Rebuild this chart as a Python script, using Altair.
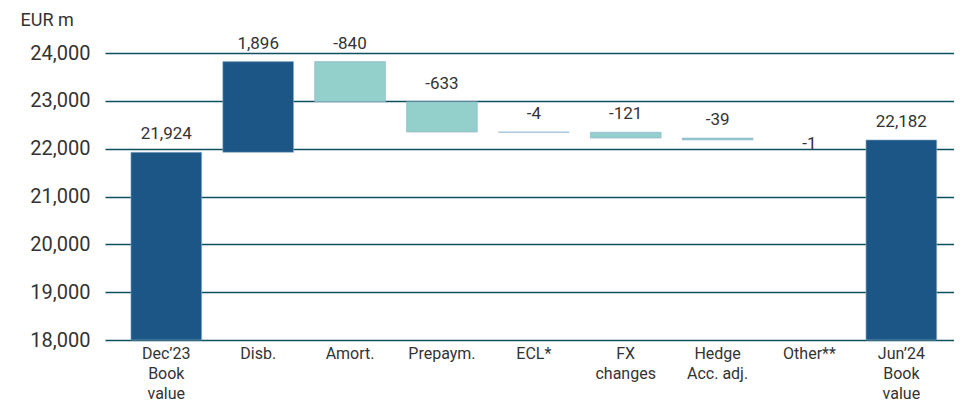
import altair as alt
import pandas as pd

categories = ["Dec’23\nBook\nvalue", "Disb.", "Amort.", "Prepaym.", "ECL*",
              "FX\nchanges", "Hedge\nAcc. adj.", "Other**", "Jun’24\nBook\nvalue"]
values = [21924, 1896, -840, -633, -4, -121, -39, -1, 22182]
kinds = ["total", "up", "down", "down", "down", "down", "down", "down", "total"]
y_ticks = [18000, 19000, 20000, 21000, 22000, 23000, 24000]

rows = []
running = 0
for c, v, k in zip(categories, values, kinds):
    if k == "total":
        start, end = 0, v
        running = v
    else:
        start, end = running, running + v
        running = end
    rows.append({"cat": c, "start": start, "end": end, "top": max(start, end),
                 "label": f"{v:,}", "kind": k,
                 "color": "light" if k == "down" else "dark"})
df = pd.DataFrame(rows)

FONT = "Roboto"

x = alt.X("cat:N", sort=categories, title=None,
          scale=alt.Scale(paddingInner=0.23, paddingOuter=0.235, align=0.6),
          axis=alt.Axis(labelAngle=0, labelExpr="split(datum.value, '\\n')",
                        labelFontSize=16, labelLineHeight=20, labelColor="#333333",
                        labelFont=FONT, labelPadding=5, ticks=False, domain=False,
                        labelBaseline="top"))

base = alt.Chart(df)

bars = base.mark_bar(stroke="#8fb0cc").encode(
    x=x,
    y=alt.Y("start:Q", scale=alt.Scale(domain=[18000, 24000], clamp=True),
            title="EUR m",
            axis=alt.Axis(values=y_ticks,
                          labelExpr="format(datum.value, ',.0f')",
                          labelFontSize=20, labelFont=FONT,
                          labelColor="#333333", labelPadding=15, ticks=False,
                          domain=False, grid=True, gridColor="#0f5060",
                          gridWidth=1.5, titleAngle=0, titleAlign="left",
                          titleBaseline="middle", titleX=-85, titleY=-33,
                          titleFontSize=18, titleFontWeight="normal",
                          titleFont=FONT, titleColor="#333333")),
    y2="end:Q",
    color=alt.Color("color:N", scale=alt.Scale(domain=["dark", "light"],
                                                range=["#1b5687", "#93cfcb"]),
                    legend=None),
    strokeWidth=alt.condition(alt.datum.cat == "Other**", alt.value(0), alt.value(0.6)),
)

labels = base.transform_filter(alt.datum.cat != "Other**").mark_text(
    baseline="alphabetic", dy=-13, fontSize=17, font=FONT, color="#333333"
).encode(x=x, y="top:Q", text="label:N")

other_label = base.transform_filter(alt.datum.cat == "Other**").mark_text(
    baseline="alphabetic", dy=9, fontSize=17, font=FONT, color="#333333"
).encode(x=x, y="top:Q", text="label:N")

chart = alt.layer(bars, labels, other_label).properties(
    width=849, height=287,
    autosize=alt.AutoSizeParams(type="none"),
    padding={"left": 97, "top": 45, "right": 0, "bottom": 61},
).configure_view(stroke=None)

chart.save("out.html", embed_options={"renderer": "svg", "actions": False})
